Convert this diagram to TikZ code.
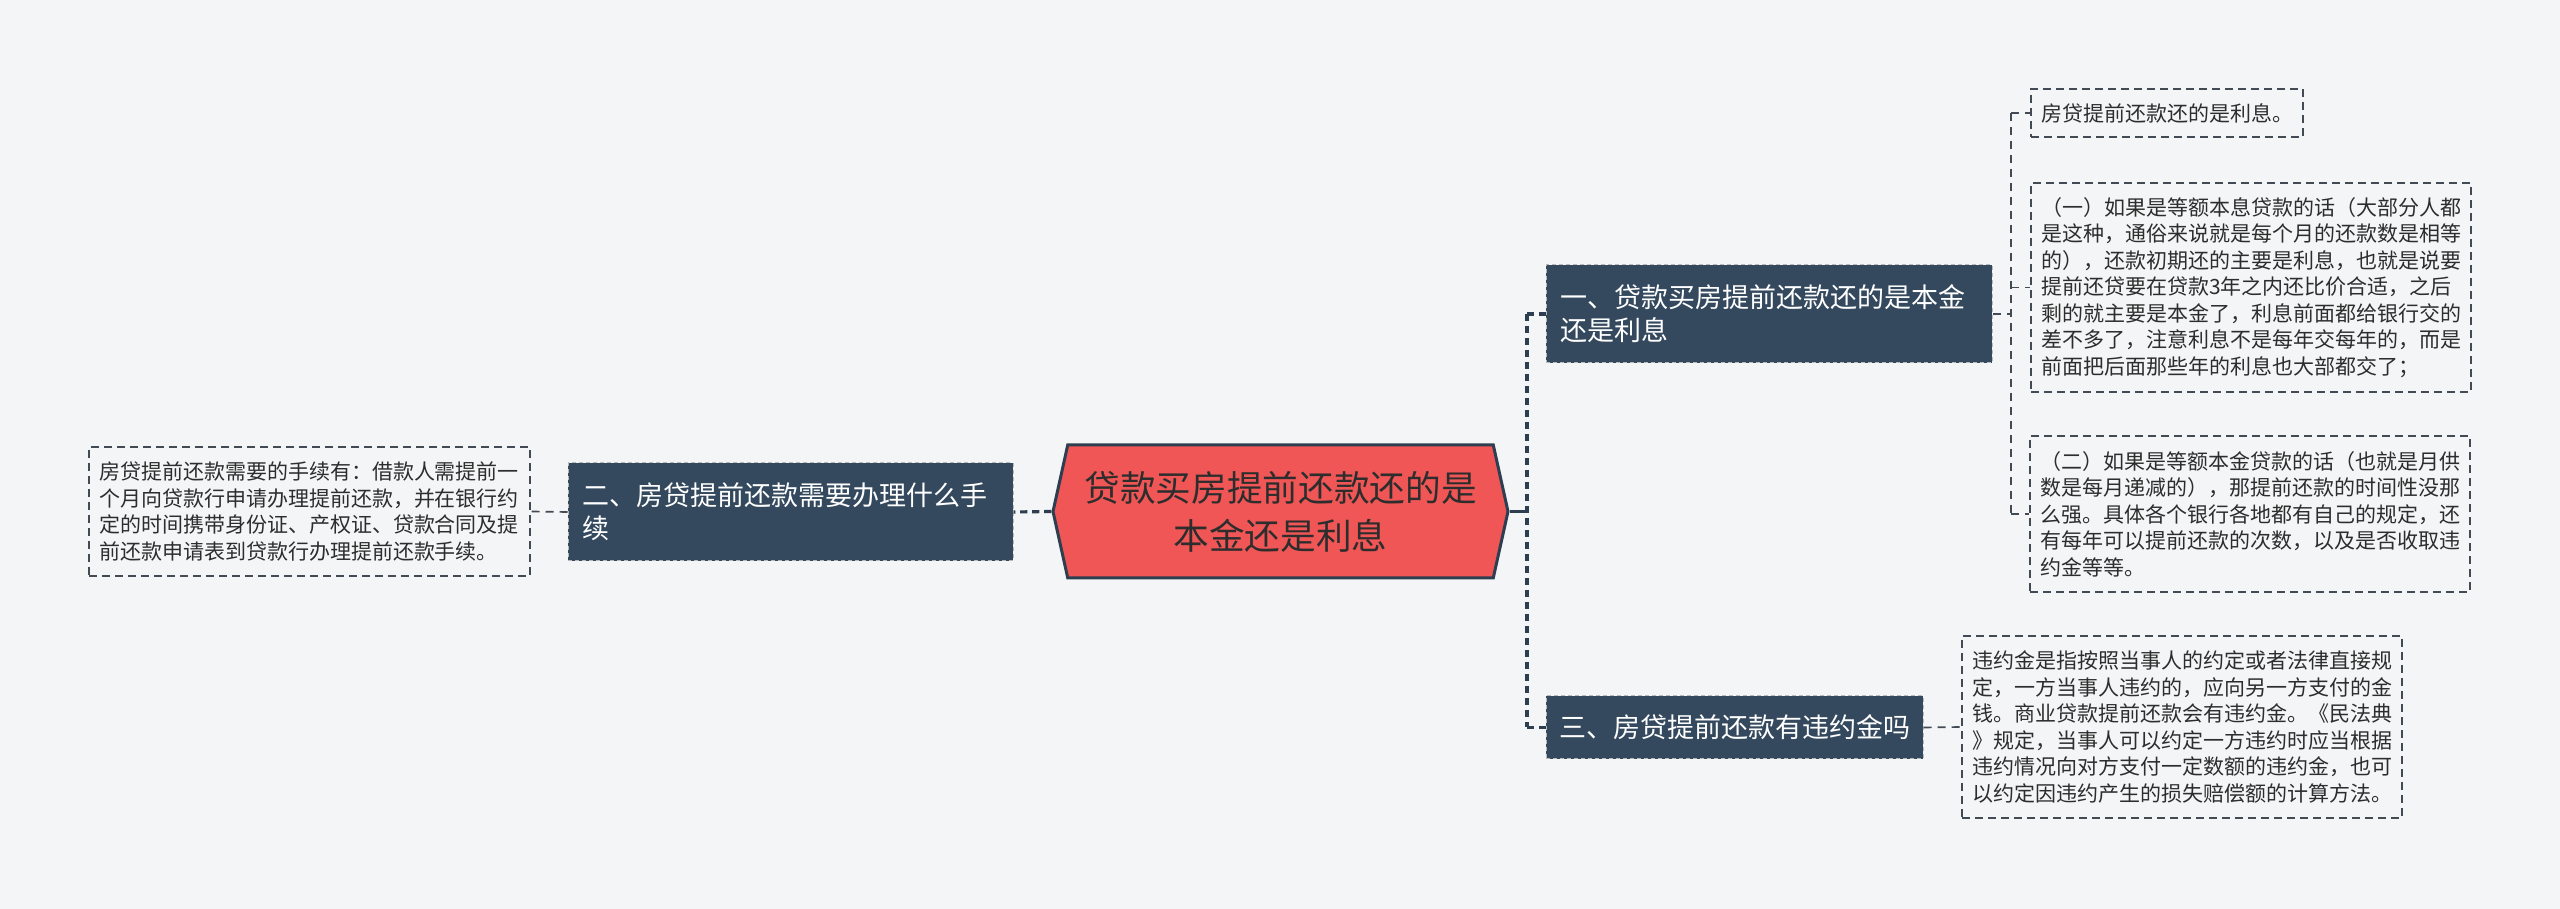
\documentclass[tikz,border=0pt]{standalone}
\usepackage{fontspec}
\newfontfamily\cjk{Noto Sans CJK SC}
\usetikzlibrary{shapes.symbols, positioning}
\definecolor{bgcol}{RGB}{244,245,246}
\definecolor{hubred}{RGB}{240,86,86}
\definecolor{navy}{RGB}{52,73,94}
\definecolor{linecol}{RGB}{44,62,80}
\definecolor{leafline}{RGB}{66,74,84}
\definecolor{txtcol}{RGB}{45,45,45}

\begin{document}
\begin{tikzpicture}[x=0.3pt, y=-0.3pt,
  hubbox/.style={signal, signal to=east and west, signal pointer angle=155,
    draw=linecol, line width=0.9pt, fill=hubred, text=txtcol,
    font=\cjk\fontsize{10.7}{14.4}\selectfont, align=center, inner sep=0pt,
    minimum width=136.5pt, minimum height=39.9pt},
  branchbox/.style={draw=gray!55, dash pattern=on 1.2pt off 0.9pt, line width=0.3pt,
    fill=navy, text=white, font=\cjk\fontsize{8.1}{9.9}\selectfont,
    align=left, inner xsep=4.2pt, inner ysep=0pt},
  leafbox/.style={draw=leafline, dash pattern=on 2.4pt off 1.5pt, line width=0.45pt,
    text=txtcol, font=\cjk\fontsize{6.3}{7.95}\selectfont,
    align=left, inner xsep=3pt, inner ysep=0pt, text width=126pt},
  conn/.style={draw=linecol, line width=0.95pt, dash pattern=on 2.2pt off 1.4pt},
  leafconn/.style={draw=leafline, line width=0.5pt, dash pattern=on 2.4pt off 1.8pt}]

\fill[bgcol] (0,0) rectangle (2560,909);
\useasboundingbox (0,0) rectangle (2560,909);

% centre
\node[hubbox] (hub) at (1280.5,511.5) {贷款买房提前还款还的是\\本金还是利息};

% branches
\node[branchbox, text width=125.4pt, minimum height=29.4pt] (b1) at (1769,314)
  {一、贷款买房提前还款还的是本金\\还是利息};
\node[branchbox, text width=125.1pt, minimum height=29.4pt] (b2) at (790.5,512)
  {二、房贷提前还款需要办理什么手\\续};
\node[branchbox, text width=105.3pt, inner xsep=3.9pt, minimum height=18.9pt] (b3) at (1734.5,727.5)
  {三、房贷提前还款有违约金吗};

% leaves
\node[leafbox, text width=75.6pt, minimum height=14.4pt] (l1a) at (2167,113)
  {房贷提前还款还的是利息。};
\node[leafbox, minimum height=62.7pt] (l1b) at (2251,287.5)
  {（一）如果是等额本息贷款的话（大部分人都\\是这种，通俗来说就是每个月的还款数是相等\\的），还款初期还的主要是利息，也就是说要\\提前还贷要在贷款3年之内还比价合适，之后\\剩的就主要是本金了，利息前面都给银行交的\\差不多了，注意利息不是每年交每年的，而是\\前面把后面那些年的利息也大部都交了；};
\node[leafbox, minimum height=46.8pt] (l1c) at (2250,514)
  {（二）如果是等额本金贷款的话（也就是月供\\数是每月递减的），那提前还款的时间性没那\\么强。具体各个银行各地都有自己的规定，还\\有每年可以提前还款的次数，以及是否收取违\\约金等等。};
\node[leafbox, minimum height=38.7pt, text width=126.3pt] (lf2) at (309.5,511.5)
  {房贷提前还款需要的手续有：借款人需提前一\\个月向贷款行申请办理提前还款，并在银行约\\定的时间携带身份证、产权证、贷款合同及提\\前还款申请表到贷款行办理提前还款手续。};
\node[leafbox, minimum height=54.6pt] (l3) at (2182,727)
  {违约金是指按照当事人的约定或者法律直接规\\定，一方当事人违约的，应向另一方支付的金\\钱。商业贷款提前还款会有违约金。《民法典\\》规定，当事人可以约定一方违约时应当根据\\违约情况向对方支付一定数额的违约金，也可\\以约定因违约产生的损失赔偿额的计算方法。};

% connectors
\coordinate (sp1) at (1527,511.5);
\coordinate (sp2) at (2011,314);
\draw[linecol, line width=0.95pt] (hub.east) -- (sp1);
\draw[conn] (sp1 |- b1.west) -- (sp1 |- b3.west);
\draw[conn] (sp1 |- b1.west) -- (b1.west);
\draw[conn] (sp1 |- b3.west) -- (b3.west);
\draw[conn] (hub.west) -- (b2.east);
\draw[leafconn] (b2.west) -- (lf2.east);
\draw[leafconn] (b1.east) -- (sp2);
\draw[leafconn] (sp2 |- l1a.west) -- (sp2 |- l1c.west);
\foreach \n in {l1a,l1b,l1c}
  \draw[leafconn] (sp2 |- \n.west) -- (\n.west);
\draw[leafconn] (b3.east) -- (l3.west);

\end{tikzpicture}
\end{document}
